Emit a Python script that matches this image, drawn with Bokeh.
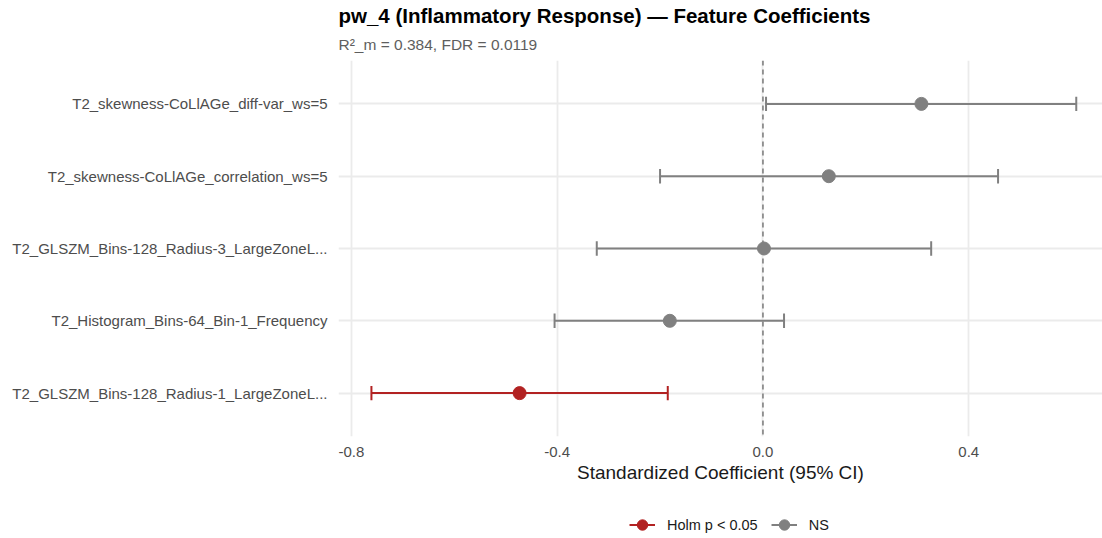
from bokeh.plotting import figure
from bokeh.layouts import column
from bokeh.models import ColumnDataSource, FixedTicker, Span, Title, Legend, LegendItem, Range1d
from bokeh.embed import file_html
from bokeh.resources import INLINE

features = [
    "T2_skewness-CoLlAGe_diff-var_ws=5",
    "T2_skewness-CoLlAGe_correlation_ws=5",
    "T2_GLSZM_Bins-128_Radius-3_LargeZoneL...",
    "T2_Histogram_Bins-64_Bin-1_Frequency",
    "T2_GLSZM_Bins-128_Radius-1_LargeZoneL...",
]
coef = [0.308, 0.128, 0.002, -0.181, -0.473]
ci_low = [0.006, -0.200, -0.323, -0.405, -0.761]
ci_high = [0.609, 0.457, 0.327, 0.041, -0.185]
group = ["NS", "NS", "NS", "NS", "Holm p < 0.05"]
groups = ["Holm p < 0.05", "NS"]
x_ticks = [-0.8, -0.4, 0.0, 0.4]
x_tick_labels = ["-0.8", "-0.4", "0.0", "0.4"]

colors = {"Holm p < 0.05": "#B22222", "NS": "#808080"}
FONT = "Liberation Sans"

n = len(features)
ypos = [n - i for i in range(n)]

p = figure(width=1102, height=500, output_backend="svg", toolbar_location=None,
           x_range=Range1d(-0.825, 0.66), y_range=Range1d(0.4, n + 0.6),
           min_border_left=338, min_border_right=0, min_border_top=60, min_border_bottom=64)
p.title = None
p.outline_line_color = None
p.background_fill_color = "white"

# gridlines
p.xgrid.ticker = FixedTicker(ticks=x_ticks)
p.ygrid.ticker = FixedTicker(ticks=ypos)
p.xgrid.grid_line_color = "#EBEBEB"
p.ygrid.grid_line_color = "#EBEBEB"
p.xgrid.grid_line_width = 1.8
p.ygrid.grid_line_width = 1.8

zero = Span(location=0, dimension="height", line_color="#808080", line_dash="5 4", line_width=1.6)
p.add_layout(zero)

sources = {}
for g in groups:
    idx = [i for i in range(n) if group[i] == g]
    src = ColumnDataSource(dict(
        y=[ypos[i] for i in idx],
        c=[coef[i] for i in idx],
        lo=[ci_low[i] for i in idx],
        hi=[ci_high[i] for i in idx],
        ylo=[ypos[i] - 0.1 for i in idx],
        yhi=[ypos[i] + 0.1 for i in idx],
    ))
    sources[g] = src
    col = colors[g]
    p.segment(x0="lo", x1="hi", y0="y", y1="y", source=src, line_color=col, line_width=2)
    p.segment(x0="lo", x1="lo", y0="ylo", y1="yhi", source=src, line_color=col, line_width=2)
    p.segment(x0="hi", x1="hi", y0="ylo", y1="yhi", source=src, line_color=col, line_width=2)
    p.scatter(x="c", y="y", source=src, size=13, fill_color=col, line_color=col)

# axes
p.xaxis.ticker = FixedTicker(ticks=x_ticks)
p.xaxis.major_label_overrides = {t: l for t, l in zip(x_ticks, x_tick_labels)}
p.yaxis.ticker = FixedTicker(ticks=ypos)
p.yaxis.major_label_overrides = {y: f for y, f in zip(ypos, features)}
for ax in (p.xaxis[0], p.yaxis[0]):
    ax.axis_line_color = None
    ax.major_tick_line_color = None
    ax.minor_tick_line_color = None
    ax.major_label_text_font = FONT
    ax.major_label_text_font_size = "15px"
    ax.major_label_text_color = "#4D4D4D"
p.yaxis.major_label_standoff = 5
p.xaxis.major_label_standoff = 4
p.xaxis.axis_label = "Standardized Coefficient (95% CI)"
p.xaxis.axis_label_text_font = FONT
p.xaxis.axis_label_text_font_size = "19px"
p.xaxis.axis_label_text_font_style = "normal"
p.xaxis.axis_label_text_color = "#1A1A1A"
p.xaxis.axis_label_standoff = 2

sub = Title(text="R\u00b2_m = 0.384, FDR = 0.0119", align="left", text_font=FONT,
            text_font_size="15.5px", text_font_style="normal", text_color="#5E5E5E", standoff=15)
main = Title(text="pw_4 (Inflammatory Response) \u2014 Feature Coefficients", align="left",
             text_font=FONT, text_font_size="20.5px", text_font_style="bold", text_color="#000000",
             standoff=0)
p.add_layout(sub, "above")
p.add_layout(main, "above")

# legend strip below the plot (its data lies outside its view; only the legend shows)
lg = figure(width=1102, height=38, output_backend="svg", toolbar_location=None,
            x_range=Range1d(10, 11), y_range=Range1d(10, 11),
            min_border_left=0, min_border_right=0, min_border_top=0, min_border_bottom=0)
lg.title = None
lg.outline_line_color = None
lg.axis.visible = False
lg.grid.visible = False
items = []
for g in groups:
    col = colors[g]
    src = sources[g]
    r1 = lg.segment(x0="lo", x1="hi", y0="y", y1="y", source=src, line_color=col, line_width=2)
    r2 = lg.scatter(x="c", y="y", source=src, size=13, fill_color=col, line_color=col)
    items.append(LegendItem(label=g, renderers=[r1, r2]))
legend = Legend(items=items, orientation="horizontal", location=(291, -3),
                border_line_alpha=0, background_fill_alpha=0,
                label_text_font=FONT, label_text_font_size="14.5px", label_text_color="#1A1A1A",
                glyph_width=26, glyph_height=33, label_standoff=12, spacing=13, margin=0, padding=0)
lg.add_layout(legend, "center")

open("out.html", "w").write(file_html(column(p, lg), INLINE))
